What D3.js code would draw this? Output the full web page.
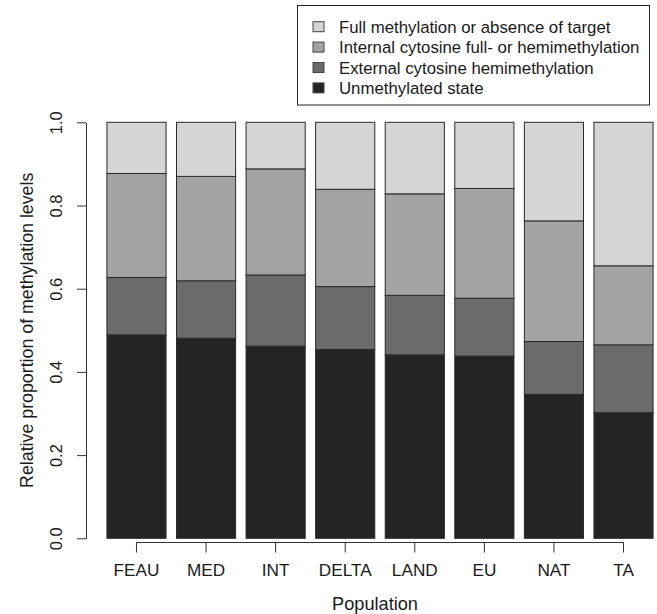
<!DOCTYPE html>
<html>
<head>
<meta charset="utf-8">
<script src="https://cdn.jsdelivr.net/npm/d3@7"></script>
<style>
  body { margin: 0; background: #fff; }
  svg text { font-family: "Liberation Sans", Arial, sans-serif; fill: #1a1a1a; }
</style>
</head>
<body>
<div id="chart"></div>
<script>
// Stacked proportions of methylation levels per population

const populations = ["FEAU", "MED", "INT", "DELTA", "LAND", "EU", "NAT", "TA"];

// bottom to top
const seriesNames = [
    "Unmethylated state",
    "External cytosine hemimethylation",
    "Internal cytosine full- or hemimethylation",
    "Full methylation or absence of target"
];
const unmethylated = [0.489, 0.481, 0.462, 0.454, 0.441, 0.438, 0.346, 0.302];
const externalHemi = [0.138, 0.138, 0.171, 0.151, 0.143, 0.139, 0.127, 0.163];
const internalFull = [0.250, 0.251, 0.255, 0.234, 0.244, 0.264, 0.290, 0.190];
const fullOrAbsent = [0.123, 0.130, 0.112, 0.161, 0.172, 0.159, 0.237, 0.345];

const yTicks = [0, 0.2, 0.4, 0.6, 0.8, 1.0];
const fills = ["#242424", "#6b6b6b", "#a3a3a3", "#d5d5d5"];

function drawChart() {
    const width = 657, height = 614;
    const svg = d3.select("#chart").append("svg")
        .attr("width", width)
        .attr("height", height);

    const rows = populations.map((p, i) => ({
        pop: p,
        s0: unmethylated[i],
        s1: externalHemi[i],
        s2: internalFull[i],
        s3: fullOrAbsent[i]
    }));
    const stack = d3.stack().keys(["s0", "s1", "s2", "s3"]);
    const layers = stack(rows);

    const x = d3.scaleBand()
        .domain(populations)
        .range([101.7, 658.3])
        .paddingInner(0.15)
        .paddingOuter(0.075);

    const y = d3.scaleLinear()
        .domain([0, 1])
        .range([538.3, 122.3]);

    // bars
    svg.append("g")
        .selectAll("g")
        .data(layers)
        .enter()
        .append("g")
        .attr("fill", (d, i) => fills[i])
        .selectAll("rect")
        .data(d => d)
        .enter()
        .append("rect")
        .attr("x", d => x(d.data.pop))
        .attr("width", x.bandwidth())
        .attr("y", d => y(d[1]))
        .attr("height", d => y(d[0]) - y(d[1]))
        .attr("stroke", "#2a2a2a")
        .attr("stroke-width", 1);

    // y axis
    const yAxis = svg.append("g")
        .attr("transform", "translate(86,0)")
        .call(d3.axisLeft(y).tickValues(yTicks).tickFormat(d3.format(".1f"))
            .tickSize(9).tickSizeOuter(0));
    yAxis.selectAll("path, line").attr("stroke", "#333");
    yAxis.selectAll("text")
        .attr("x", null).attr("dy", null)
        .attr("transform", "translate(-24,0) rotate(-90)")
        .style("text-anchor", "middle")
        .style("font-size", "16.5px");

    // x axis
    const xAxis = svg.append("g")
        .attr("transform", "translate(0,542.5)")
        .call(d3.axisBottom(x).tickSize(10).tickSizeOuter(0));
    const first = x(populations[0]) + x.bandwidth() / 2;
    const last = x(populations[populations.length - 1]) + x.bandwidth() / 2;
    xAxis.select(".domain").attr("d", `M${first},0H${last}`);
    xAxis.selectAll("path, line").attr("stroke", "#333");
    xAxis.selectAll("text")
        .attr("y", 33.5).attr("dy", null)
        .style("font-size", "17.2px");

    // axis titles
    svg.append("text")
        .attr("transform", `translate(33,${(y(0) + y(1)) / 2}) rotate(-90)`)
        .style("text-anchor", "middle")
        .style("font-size", "17.8px")
        .text("Relative proportion of methylation levels");

    svg.append("text")
        .attr("x", (first + last) / 2 - 5)
        .attr("y", 610)
        .style("text-anchor", "middle")
        .style("font-size", "18.2px")
        .text("Population");

    // legend
    const legend = svg.append("g");
    legend.append("rect")
        .attr("x", 297.5).attr("y", 5.5)
        .attr("width", 352).attr("height", 99.5)
        .attr("fill", "#fff")
        .attr("stroke", "#222");

    const order = [3, 2, 1, 0];
    const item = legend.selectAll("g.item")
        .data(order)
        .enter()
        .append("g")
        .attr("transform", (d, i) => `translate(0,${26.7 + i * 20.4})`);
    item.append("rect")
        .attr("x", 313).attr("y", -5)
        .attr("width", 11).attr("height", 10)
        .attr("fill", d => fills[d])
        .attr("stroke", "#444");
    item.append("text")
        .attr("x", 339)
        .attr("y", 6)
        .style("font-size", "16.8px")
        .text(d => seriesNames[d]);
}

drawChart();
</script>
</body>
</html>
